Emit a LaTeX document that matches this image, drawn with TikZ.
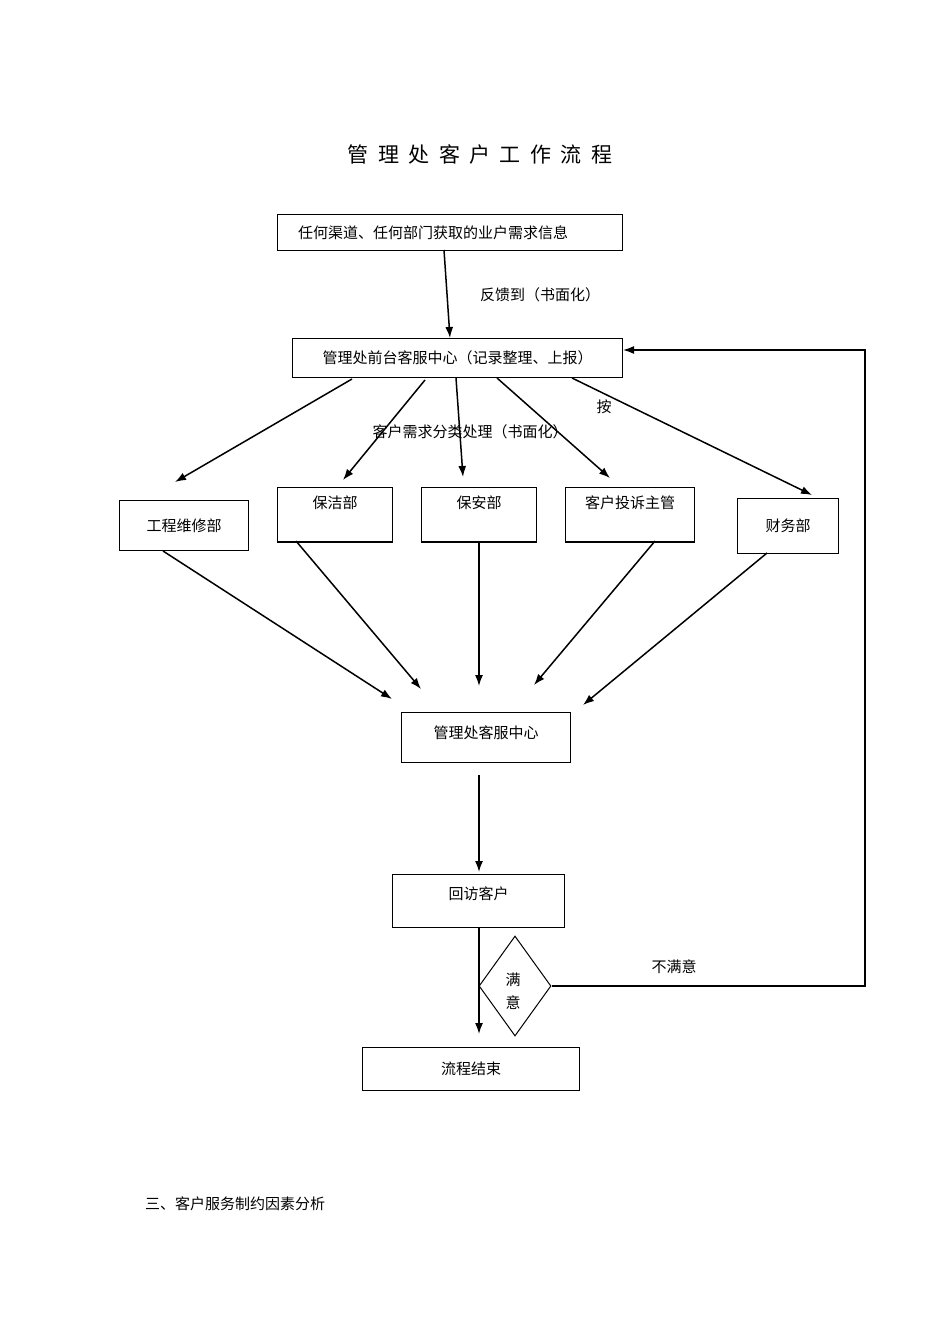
\documentclass[tikz,border=0pt]{standalone}
\usepackage{fontspec}
\setmainfont{Noto Sans CJK SC}
\usetikzlibrary{arrows.meta,shapes.geometric}
\begin{document}
\begin{tikzpicture}[x=1pt,y=-1pt,
  box/.style={draw,line width=1pt,inner sep=0pt,font=\fontsize{15}{18}\selectfont},
  lbl/.style={font=\fontsize{15}{18}\selectfont,inner sep=0pt},
  arr/.style={line width=1.5pt,-{Latex[length=11pt,width=8pt]}}]
\useasboundingbox (0,0) rectangle (950,1344);
\node[lbl,font=\fontsize{21}{24}\selectfont] (title) at (480,154) {管\ \ 理\ \ 处\ \ 客\ \ 户\ \ 工\ \ 作\ \ 流\ \ 程};
\node[box,minimum width=345,minimum height=36,anchor=north west,text width=330] (src) at (277,214) {\hspace*{13pt}任何渠道、任何部门获取的业户需求信息};
\node[box,minimum width=330,minimum height=39,anchor=north west] (front) at (292,338) {管理处前台客服中心（记录整理、上报）};
\node[box,minimum width=129,minimum height=50,anchor=north west] (eng) at (119,500) {工程维修部};
\node[box,minimum width=115,minimum height=54,anchor=north west,text depth=24pt] (clean) at (277,487) {保洁部};
\node[box,minimum width=115,minimum height=54,anchor=north west,text depth=24pt] (sec) at (421,487) {保安部};
\node[box,minimum width=129,minimum height=54,anchor=north west,text depth=24pt] (comp) at (565,487) {客户投诉主管};
\node[box,minimum width=101,minimum height=55,anchor=north west] (fin) at (737,498) {财务部};
\draw[line width=2pt] (clean.south west)--(clean.south east) (sec.south west)--(sec.south east) (comp.south west)--(comp.south east);
\node[box,minimum width=169,minimum height=50,anchor=north west,text depth=10pt] (cs) at (401,712) {管理处客服中心};
\node[box,minimum width=172,minimum height=53,anchor=north west,text depth=16pt] (visit) at (392,874) {回访客户};
\node[draw,line width=1pt,diamond,minimum width=72,minimum height=100,inner sep=0pt,aspect=0.72] (sat) at (515,986) {};
\node[lbl] (satt) at (513,991) {\shortstack{满\\[6pt]意}};
\node[box,minimum width=217,minimum height=43,anchor=north west] (end) at (362,1047) {流程结束};
\node[lbl] (l1) at (540,295) {反馈到（书面化）};
\node[lbl] (l2) at (604,407) {按};
\node[lbl] (l3) at (470,432) {客户需求分类处理（书面化）};
\node[lbl] (l4) at (674,967) {不满意};
\node[lbl,anchor=west] (sec3) at (145,1204) {三、客户服务制约因素分析};
\coordinate (c1) at (444,250); \coordinate (c2) at (450,338);
\draw[arr] (c1)--(c2);
\draw[arr] (352,379)--(175,482);
\draw[arr] (425,380)--(343,480);
\draw[arr] (456,378)--(463,477);
\draw[arr] (497,378)--(610,478);
\draw[arr] (572,378)--(812,495);
\draw[arr] (163,551)--(392,699);
\draw[arr] (296,541)--(421,689);
\draw[arr] (479,541)--(479,686);
\draw[arr] (655,541)--(534,685);
\draw[arr] (767,553)--(583,705);
\draw[arr] (479,775)--(479,872);
\draw[arr] (479,927)--(479,1034);
\draw[arr] (sat.east)--(865,986)--(865,350)--(front.east|-0,350);
\end{tikzpicture}
\end{document}
